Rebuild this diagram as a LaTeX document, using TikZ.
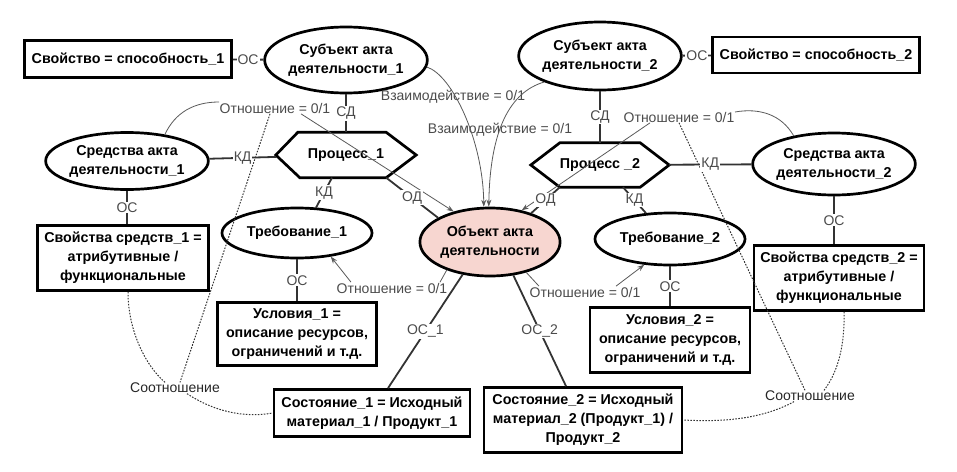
\documentclass[tikz,border=0pt]{standalone}
\usepackage{fontspec}
\setmainfont{Liberation Sans}
\usetikzlibrary{shapes.geometric,arrows.meta,calc}
\definecolor{pinkfill}{RGB}{247,214,208}
\definecolor{lblgray}{RGB}{75,75,75}
\newcommand\dgfont{\fontsize{14}{19}\selectfont}
\newcommand\dgbfont{\fontsize{14.3}{19}\selectfont\bfseries}
\begin{document}
\begin{tikzpicture}[x=1pt,y=-1pt,
  every node/.style={font=\dgfont},
  ell/.style={ellipse, draw, line width=2.7pt, inner sep=0pt, align=center, font=\dgbfont},
  box/.style={rectangle, draw, line width=2.7pt, inner sep=0pt, align=center, font=\dgbfont},
  hexn/.style={rectangle, inner sep=0pt, font=\dgbfont},
  hexb/.style={line width=2.7pt, line join=miter},
  conn/.style={line width=1.8pt, draw=black!80},
  lab/.style={fill=white, inner sep=1pt, text=lblgray, font=\dgfont},
  rel/.style={line width=0.8pt, draw=black!65},
  ftxt/.style={text=lblgray, inner sep=0.5pt, font=\dgfont},
  dots/.style={line width=1pt, draw=black!80, dash pattern=on 1.6pt off 1.4pt},
  arr/.style={-{Stealth[length=7pt,width=5pt]}}
]
\useasboundingbox (0,0) rectangle (957,471);

% nodes
\node[box, minimum width=207, minimum height=37] (sv1) at (128,59) {Свойство = способность\_1};
\node[ell, minimum width=152, minimum height=66] (s1) at (346,60) {Субъект акта\\деятельности\_1};
\node[ell, minimum width=150, minimum height=68] (s2) at (600,56) {Субъект акта\\деятельности\_2};
\node[box, minimum width=207, minimum height=36] (sv2) at (816,55) {Свойство = способность\_2};
\node[ell, minimum width=158, minimum height=57] (m1) at (127,161) {Средства акта\\деятельности\_1};
\node[hexn, minimum width=140, minimum height=45] (p1) at (346,155) {Процесс\_1};
\node[hexn, minimum width=138, minimum height=44] (p2) at (600,165) {Процесс \_2};
\node[ell, minimum width=157, minimum height=62] (m2) at (834,164) {Средства акта\\деятельности\_2};
\node[ell, minimum width=150, minimum height=50] (r1) at (297,233) {Требование\_1};
\node[ell, minimum width=150, minimum height=52] (r2) at (670,239) {Требование\_2};
\node[ell, fill=pinkfill, minimum width=136, minimum height=68] (ob) at (490,242) {Объект акта\\деятельности};
\node[box, minimum width=171, minimum height=65] (ss1) at (123,258) {Свойства средств\_1 =\\атрибутивные /\\функциональные};
\node[box, minimum width=170, minimum height=65] (ss2) at (839,278) {Свойства средств\_2 =\\атрибутивные /\\функциональные};
\node[box, minimum width=159, minimum height=63] (u1) at (297,334) {Условия\_1 =\\описание ресурсов,\\ограничений и т.д.};
\node[box, minimum width=160, minimum height=65] (u2) at (670,340) {Условия\_2 =\\описание ресурсов,\\ограничений и т.д.};
\node[box, minimum width=196, minimum height=47] (st1) at (372,413) {Состояние\_1 = Исходный\\материал\_1 / Продукт\_1};
\node[box, minimum width=198, minimum height=65] (st2) at (583,420) {Состояние\_2 = Исходный\\материал\_2 (Продукт\_1) /\\Продукт\_2};

% hexagons
\draw[hexb] (p1.west) -- ($(p1.north west)+(22,0)$) -- ($(p1.north east)+(-30,0)$) -- (p1.east)
  -- ($(p1.south east)+(-30,0)$) -- ($(p1.south west)+(24,0)$) -- cycle;
\draw[hexb] (p2.west) -- ($(p2.north west)+(29,0)$) -- ($(p2.north east)+(-29,0)$) -- (p2.east)
  -- ($(p2.south east)+(-29,0)$) -- ($(p2.south west)+(29,0)$) -- cycle;

% free labels
\node[ftxt] (rel1) at (275,108) {Отношение = 0/1};
\node[ftxt] (rel2) at (679,117) {Отношение = 0/1};
\node[ftxt] (rel3) at (392,288) {Отношение = 0/1};
\node[ftxt] (rel4) at (585,292) {Отношение = 0/1};
\node[ftxt] (vz1) at (453,97) {Взаимодействие = 0/1};
\node[ftxt] (vz2) at (500,130) {Взаимодействие = 0/1};
\node[ftxt, text=black!85] (so1) at (175,388) {Соотношение};
\node[ftxt, text=black!85] (so2) at (810,396) {Соотношение};

% thin relation lines
\draw[rel] ($(rel1.west)+(0,-6)$) to[out=180,in=65] (m1.35);
\draw[rel,arr] ($(rel1.south east)+(-30,0)$) -- (ob.140);
\draw[rel] ($(rel2.east)+(0,-5)$) to[out=10,in=120] (m2.145);
\draw[rel,arr] ($(rel2.south west)+(27,0)$) -- (ob.45);
\draw[rel,arr] (s1.-5) .. controls (452,75) and (483,140) .. (ob.100);
\draw[rel,arr] (s2.205) .. controls (510,92) and (490,130) .. (ob.92);
\draw[rel] (ob.213) -- ($(rel3.north east)+(-8,0)$);
\draw[rel,arr] ($(rel3.north west)+(15,0)$) -- (r1.-35);
\draw[rel] (ob.-40) -- ($(rel4.north west)+(10,0)$);
\draw[rel,arr] ($(rel4.north east)+(-25,0)$) -- (r2.-135);

% dotted relations
\draw[dots] ($(ss1.south)+(5,0)$) .. controls (128,330) and (145,365) .. ($(so1.north)+(-10,0)$);
\draw[dots] ($(rel1.south)+(-5,0)$) -- ($(so1.north)+(5,0)$);
\draw[dots] ($(so1.south)+(12,0)$) .. controls (215,412) and (245,418) .. (st1.west);
\draw[dots] ($(rel2.south)+(0,0)$) -- ($(so2.north)+(-5,0)$);
\draw[dots] ($(ss2.south)+(5,0)$) .. controls (845,345) and (838,372) .. ($(so2.north)+(14,0)$);
\draw[dots] ($(so2.south)+(-16,0)$) .. controls (760,420) and (720,422) .. (st2.east);

% connectors
\draw[conn] (sv1) -- node[lab]{ОС} (s1);
\draw[conn] (s2) -- node[lab]{ОС} (sv2);
\draw[conn] (s1) -- node[lab]{СД} (p1);
\draw[conn] (s2) -- node[lab]{СД} (p2);
\draw[conn] (m1) -- node[lab]{КД} (p1);
\draw[conn] (p2) -- node[lab]{КД} (m2);
\draw[conn] ($(p1.south)+(-14,0)$) -- node[lab]{КД} ($(r1.north)+(19,1)$);
\draw[conn] ($(p2.south)+(23,0)$) -- node[lab]{КД} ($(r2.north)+(-24,1.5)$);
\draw[conn] (m1.south) -- node[lab]{ОС} (m1.south |- ss1.north);
\draw[conn] (m2.south) -- node[lab]{ОС} (m2.south |- ss2.north);
\draw[conn] (r1) -- node[lab]{ОС} (u1);
\draw[conn] (r2) -- node[lab]{ОС} (u2);
\draw[conn] ($(p1.south east)+(-30,0)$) -- node[lab]{ОД} (ob.155);
\draw[conn] ($(p2.south west)+(29,0)$) -- node[lab]{ОД} (ob.35);
\draw[conn] (ob.-130) -- node[lab]{ОС\_1} ($(st1.north)+(16,0)$);
\draw[conn] (ob.-55) -- node[lab]{ОС\_2} ($(st2.north)+(-17,0)$);
\end{tikzpicture}
\end{document}
